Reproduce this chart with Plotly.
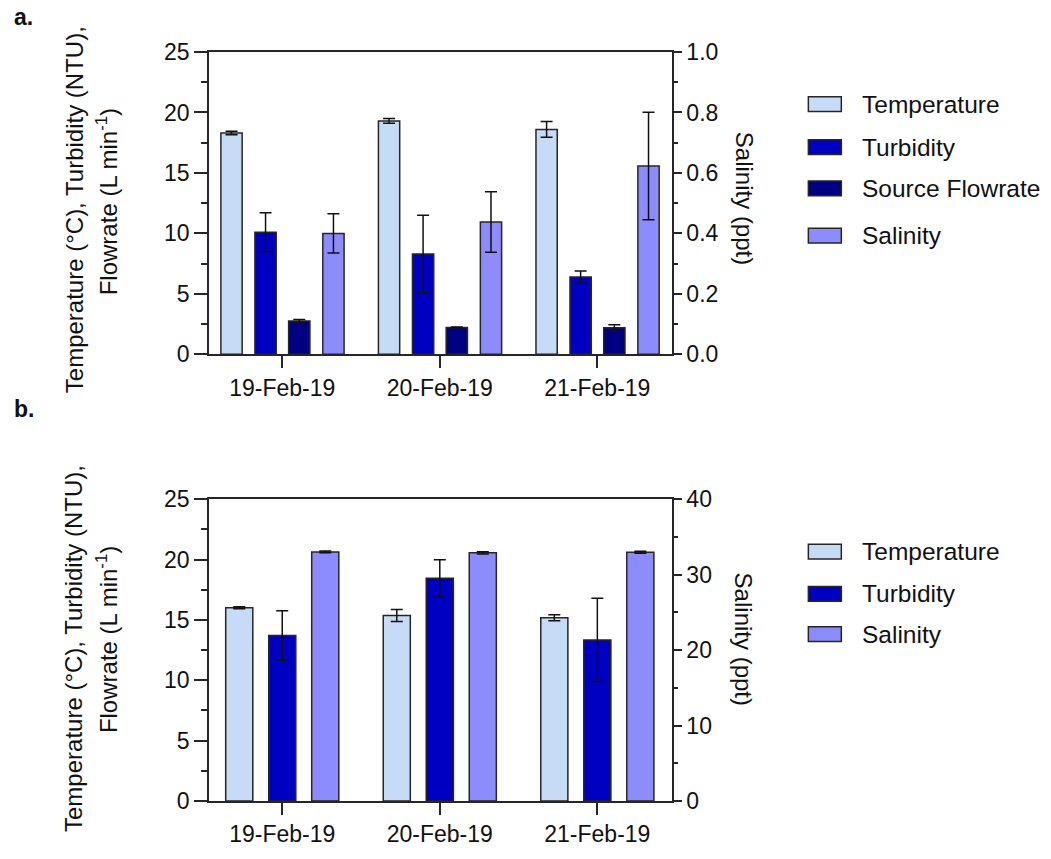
import plotly.graph_objects as go

# ---------------- data ----------------
dates = ["19-Feb-19", "20-Feb-19", "21-Feb-19"]

# panel a
a_temp = [18.3, 19.3, 18.6]
a_temp_err = [0.15, 0.2, 0.65]
a_turb = [10.1, 8.3, 6.4]
a_turb_err = [1.6, 3.2, 0.5]
a_flow = [2.76, 2.22, 2.19]
a_flow_err = [0.12, 0.05, 0.25]
a_sal = [0.40, 0.438, 0.623]
a_sal_err = [0.065, 0.1, 0.178]

# panel b
b_temp = [16.0, 15.36, 15.17]
b_temp_err = [0.08, 0.5, 0.25]
b_turb = [13.7, 18.44, 13.34]
b_turb_err = [2.05, 1.55, 3.45]
b_sal = [33.0, 32.88, 32.96]
b_sal_err = [0.12, 0.15, 0.12]

names_a = ["Temperature", "Turbidity", "Source Flowrate", "Salinity"]
names_b = ["Temperature", "Turbidity", "Salinity"]

# ---------------- styles ----------------
C_TEMP = "#C6DCF6"
C_TURB = "#0000C2"
C_FLOW = "#000083"
C_SAL = "#8C8CFF"
LINE = "#262626"
FONT = "Liberation Sans, Arial, sans-serif"

W, H = 1051, 859
L, R = 209, 672.5
T, B = 52, 815


def px(x):
    return (x - L) / (R - L)


def py(y):
    return 1 - (y - T) / (B - T)


fig = go.Figure()


def add_bar(x, y, err, color, xa, ya, center, width):
    fig.add_trace(go.Bar(
        x=x, y=y,
        error_y=dict(type="data", array=err, color="#111", thickness=1.5, width=6),
        marker=dict(color=color, line=dict(color=LINE, width=1.5)),
        width=width, offset=center - width / 2,
        xaxis=xa, yaxis=ya, showlegend=False,
    ))


wa = 0.135
add_bar(dates, a_temp, a_temp_err, C_TEMP, "x", "y", -0.322, wa)
add_bar(dates, a_turb, a_turb_err, C_TURB, "x", "y", -0.106, wa)
add_bar(dates, a_flow, a_flow_err, C_FLOW, "x", "y", 0.108, wa)
add_bar(dates, a_sal, a_sal_err, C_SAL, "x", "y2", 0.325, wa)

wb = 0.172
add_bar(dates, b_temp, b_temp_err, C_TEMP, "x2", "y3", -0.273, wb)
add_bar(dates, b_turb, b_turb_err, C_TURB, "x2", "y3", 0.0, wb)
add_bar(dates, b_sal, b_sal_err, C_SAL, "x2", "y4", 0.273, wb)

tickfont = dict(family=FONT, size=23, color="#111")

xcommon = dict(
    type="category", range=[-0.465, 2.474], showline=True, linecolor=LINE,
    linewidth=1.5, mirror=True, ticks="outside", ticklen=12, tickwidth=1.5,
    tickcolor=LINE, tickfont=tickfont, showgrid=False, zeroline=False,
    domain=[0, 1],
)


def yleft(rng, dtick, mdtick):
    return dict(range=rng, dtick=dtick, showline=True, linecolor=LINE, linewidth=1.5,
                ticks="outside", ticklen=13, tickwidth=1.5, tickcolor=LINE,
                tickfont=tickfont, showgrid=False, zeroline=False,
                minor=dict(dtick=mdtick, ticks="outside", ticklen=6, tickwidth=1.5,
                           tickcolor=LINE, showgrid=False))


def yright(rng, dtick, mdtick, fmt):
    return dict(range=rng, dtick=dtick, tickformat=fmt, side="right", showline=True,
                linecolor=LINE, linewidth=1.5, ticks="outside", ticklen=8, tickwidth=1.5,
                tickcolor=LINE, tickfont=tickfont, showgrid=False, zeroline=False,
                minor=dict(dtick=mdtick, ticks="outside", ticklen=4, tickwidth=1.5,
                           tickcolor=LINE, showgrid=False))


ytop = [py(360), 1]
ybot = [0, py(507.5)]

fig.update_layout(
    width=W, height=H,
    margin=dict(l=L, r=W - R, t=T, b=H - B, pad=0),
    paper_bgcolor="white", plot_bgcolor="white",
    barmode="overlay",
    showlegend=False,
    font=dict(family=FONT, color="#111"),
    xaxis=dict(xcommon, anchor="y"),
    yaxis=dict(yleft([0, 25], 5, 2.5), domain=ytop, anchor="x"),
    yaxis2=dict(yright([0, 1], 0.2, 0.1, ".1f"), overlaying="y", anchor="x"),
    xaxis2=dict(xcommon, anchor="y3"),
    yaxis3=dict(yleft([0, 25], 5, 2.5), domain=ybot, anchor="x2"),
    yaxis4=dict(yright([0, 40], 10, 5, "d"), overlaying="y3", anchor="x2"),
)

ann = []
shapes = []
tfont = dict(family=FONT, size=24, color="#111")
lfont = dict(family=FONT, size=24.5, color="#111")

# axis titles
line1 = "Temperature (°C), Turbidity (NTU),"
line2 = "Flowrate (L min<sup>-1</sup>)"
for c1, c2, cr in [(213, 205, 201), (660, 651, 650)]:
    ann.append(dict(x=px(74), y=py(c1), text=line1, textangle=-90, showarrow=False,
                    xref="paper", yref="paper", xanchor="center", yanchor="middle", font=tfont))
    ann.append(dict(x=px(107), y=py(c2), text=line2, textangle=-90, showarrow=False,
                    xref="paper", yref="paper", xanchor="center", yanchor="middle", font=tfont))
    ann.append(dict(x=px(745), y=py(cr), text="Salinity (ppt)", textangle=90, showarrow=False,
                    xref="paper", yref="paper", xanchor="center", yanchor="middle", font=tfont))

# panel labels
for lab, yy in [("a.", 16), ("b.", 416)]:
    ann.append(dict(x=px(12), y=py(yy), text="<b>%s</b>" % lab, showarrow=False,
                    xref="paper", yref="paper", xanchor="left", yanchor="middle",
                    font=dict(family=FONT, size=23, color="#111")))

# legends
leg_a_y = [105, 149, 191, 239]
leg_b_y = [561, 604, 645]
cols_a = [C_TEMP, C_TURB, C_FLOW, C_SAL]
cols_b = [C_TEMP, C_TURB, C_SAL]
for names, cols, ys in [(names_a, cols_a, leg_a_y), (names_b, cols_b, leg_b_y)]:
    for n, c, yy in zip(names, cols, ys):
        shapes.append(dict(type="rect", xref="paper", yref="paper",
                           x0=px(809), x1=px(842), y0=py(yy - 7.5), y1=py(yy + 7.5),
                           fillcolor=c, line=dict(color=LINE, width=1.5)))
        ann.append(dict(x=px(861), y=py(yy), text=n, showarrow=False, xref="paper",
                        yref="paper", xanchor="left", yanchor="middle", font=lfont))

fig.update_layout(annotations=ann, shapes=shapes)

fig.write_html("out.html")
